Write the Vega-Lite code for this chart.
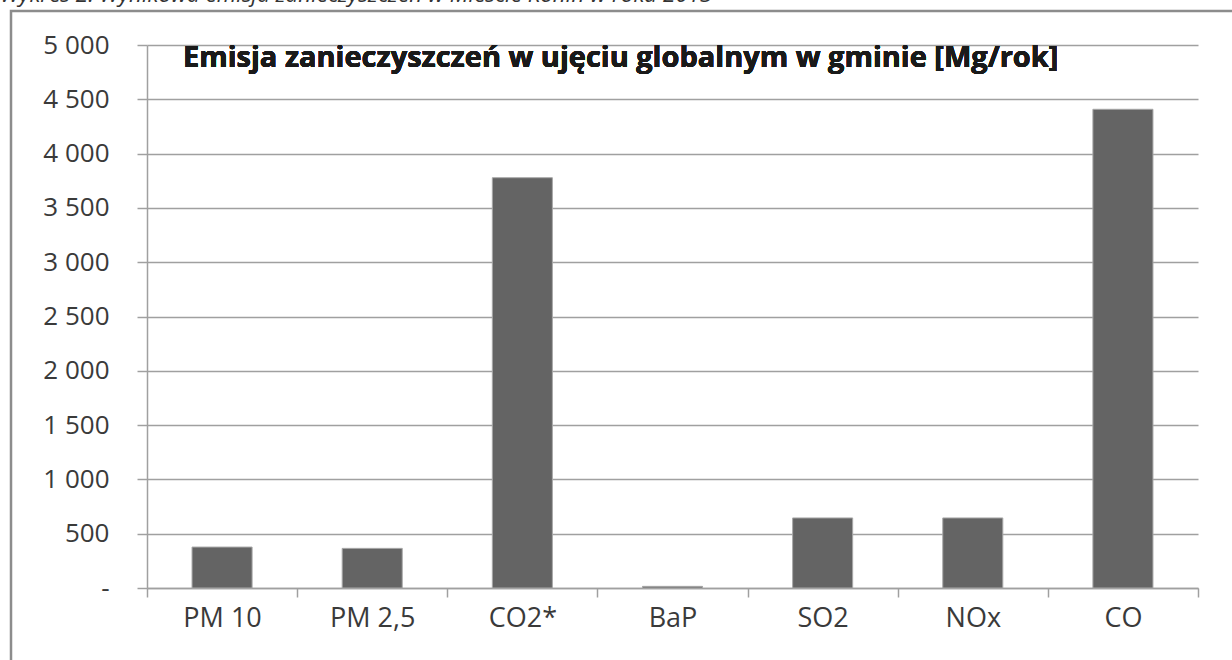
{
  "$schema": "https://vega.github.io/schema/vega-lite/v6.json",
  "autosize": {"type": "none"},
  "padding": {"left": 11, "top": 11, "right": -6, "bottom": -6},
  "width": 1227,
  "height": 655,
  "background": "white",
  "config": {
    "view": {"stroke": "#8c8c8c", "strokeWidth": 2.5, "fill": "white"},
    "font": "Open Sans"
  },
  "title": {
    "text": "Wykres 2. Wynikowa emisja zanieczyszczeń w Mieście Konin w roku 2013",
    "anchor": "start",
    "frame": "group",
    "fontStyle": "italic",
    "fontWeight": "normal",
    "fontSize": 22.4,
    "font": "Open Sans",
    "color": "#333333",
    "baseline": "alphabetic",
    "offset": 0,
    "dy": 13,
    "dx": -11
  },
  "data": {
    "values": [
      {"pollutant": "PM 10", "emission": 377},
      {"pollutant": "PM 2,5", "emission": 365},
      {"pollutant": "CO2*", "emission": 3778},
      {"pollutant": "BaP", "emission": 15},
      {"pollutant": "SO2", "emission": 645},
      {"pollutant": "NOx", "emission": 645},
      {"pollutant": "CO", "emission": 4408}
    ]
  },
  "layer": [
    {
      "mark": {"type": "bar", "width": {"band": 0.4}, "fill": "#646464", "stroke": "#a8a8a8", "strokeWidth": 1},
      "encoding": {
        "x": {
          "field": "pollutant",
          "type": "nominal",
          "sort": null,
          "scale": {"range": [136, 1187], "paddingInner": 0, "paddingOuter": 0},
          "axis": {
            "title": null,
            "orient": "bottom",
            "offset": -78,
            "tickBand": "extent",
            "tickSize": 9,
            "tickColor": "#a0a0a0",
            "domainColor": "#a0a0a0",
            "domainWidth": 1.5,
            "tickWidth": 1.5,
            "labelAngle": 0,
            "labelFontSize": 27,
            "labelColor": "#3a3a3a",
            "labelPadding": 8,
            "grid": false
          }
        },
        "y": {
          "field": "emission",
          "type": "quantitative",
          "scale": {"domain": [0, 5000], "range": [577, 34], "nice": false, "zero": true},
          "axis": {
            "title": null,
            "orient": "left",
            "offset": -136,
            "values": [0, 500, 1000, 1500, 2000, 2500, 3000, 3500, 4000, 4500, 5000],
            "labelExpr": "datum.value == 0 ? '-' : replace(format(datum.value, ','), ',', ' ')",
            "tickSize": 10,
            "tickColor": "#a0a0a0",
            "tickWidth": 1.5,
            "domainColor": "#a0a0a0",
            "domainWidth": 1.5,
            "grid": true,
            "gridColor": "#a0a0a0",
            "gridWidth": 1.5,
            "labelFontSize": 26,
            "labelColor": "#3a3a3a",
            "labelPadding": 28
          }
        }
      }
    },
    {
      "mark": {"type": "text", "align": "left", "baseline": "alphabetic", "fontWeight": "bold", "fontSize": 29, "font": "Open Sans", "color": "#1a1a1a", "dx": 36},
      "encoding": {
        "x": {"datum": "PM 10", "bandPosition": 0},
        "y": {"datum": 4797},
        "text": {"value": "Emisja zanieczyszczeń w ujęciu globalnym w gminie [Mg/rok]"}
      }
    }
  ]
}
